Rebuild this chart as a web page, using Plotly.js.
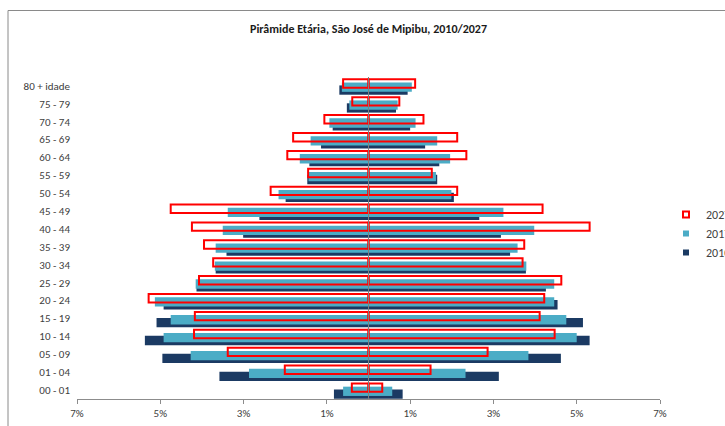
<!DOCTYPE html>
<html>
<head>
<meta charset="utf-8">
<script src="https://cdn.plot.ly/plotly-3.0.1.min.js"></script>
<style>
html,body{margin:0;padding:0;background:#fff;}
#chart{width:725px;height:426px;}
</style>
</head>
<body>
<div id="chart"></div>
<script>
// Age groups, bottom to top
var categories = ['00 - 01','01 - 04','05 - 09','10 - 14','15 - 19','20 - 24','25 - 29','30 - 34','35 - 39','40 - 44','45 - 49','50 - 54','55 - 59','60 - 64','65 - 69','70 - 74','75 - 79','80 + idade'];

// Left side (% of population), drawn to the left
var left2010 = [0.83, 3.58, 4.95, 5.37, 5.09, 4.92, 4.13, 3.67, 3.41, 3.01, 2.62, 1.99, 1.47, 1.42, 1.14, 0.86, 0.52, 0.70];
var left2017 = [0.61, 2.87, 4.27, 4.92, 4.75, 5.13, 4.15, 3.69, 3.67, 3.50, 3.38, 2.16, 1.44, 1.65, 1.39, 0.94, 0.46, 0.64];
var left2027 = [0.40, 2.01, 3.38, 4.19, 4.17, 5.28, 4.07, 3.73, 3.95, 4.24, 4.75, 2.35, 1.45, 1.95, 1.81, 1.06, 0.39, 0.61];

// Right side (% of population)
var right2010 = [0.82, 3.13, 4.62, 5.31, 5.15, 4.54, 4.26, 3.78, 3.40, 3.18, 2.66, 2.05, 1.65, 1.70, 1.36, 1.00, 0.66, 0.94];
var right2017 = [0.57, 2.33, 3.84, 5.00, 4.75, 4.46, 4.46, 3.79, 3.58, 3.98, 3.24, 1.99, 1.62, 1.96, 1.65, 1.13, 0.70, 1.04];
var right2027 = [0.33, 1.49, 2.86, 4.47, 4.11, 4.22, 4.63, 3.70, 3.74, 5.31, 4.18, 2.13, 1.52, 2.35, 2.13, 1.32, 0.74, 1.12];

var seriesNames = ['2010', '2017', '2027'];
var xTickVals = [-7, -5, -3, -1, 1, 3, 5, 7];
var xTickText = ['7%', '5%', '3%', '1%', '1%', '3%', '5%', '7%'];
var chartTitle = 'Pirâmide Etária, São José de Mipibu, 2010/2027';

var FONT = 'Carlito, "Liberation Sans Narrow", "Open Sans", sans-serif';
var COL2010 = '#1B3A63', COL2017 = '#4BACC6', COL2027 = '#FF0000';

function both(l, r) { return l.map(function(v){return -v;}).concat(r); }
var yAll = categories.concat(categories);

var traces = [
  {
    type: 'bar', orientation: 'h', name: seriesNames[0], showlegend: false,
    x: both(left2010, right2010), y: yAll,
    width: 0.52, offset: -0.49,
    marker: {color: COL2010, line: {width: 0}},
    hoverinfo: 'skip'
  },
  {
    type: 'bar', orientation: 'h', name: seriesNames[1], showlegend: false,
    x: both(left2017, right2017), y: yAll,
    width: 0.52, offset: -0.33,
    marker: {color: COL2017, line: {width: 0}},
    hoverinfo: 'skip'
  },
  {
    type: 'bar', orientation: 'h', name: seriesNames[2], showlegend: false,
    x: both(left2027, right2027), y: yAll,
    width: 0.47, offset: -0.10,
    marker: {color: 'rgba(255,255,255,0)', line: {color: COL2027, width: 2}},
    hoverinfo: 'skip'
  },
  // legend keys (small squares, as in the original)
  {type: 'scatter', mode: 'markers', name: seriesNames[0], x: [null], y: [null],
   marker: {symbol: 'square', size: 6, color: COL2010}, hoverinfo: 'skip'},
  {type: 'scatter', mode: 'markers', name: seriesNames[1], x: [null], y: [null],
   marker: {symbol: 'square', size: 6, color: COL2017}, hoverinfo: 'skip'},
  {type: 'scatter', mode: 'markers', name: seriesNames[2], x: [null], y: [null],
   marker: {symbol: 'square', size: 6, color: '#ffffff', line: {color: COL2027, width: 2}}, hoverinfo: 'skip'}
];

var layout = {
  width: 725, height: 426,
  margin: {l: 77, r: 65, t: 77, b: 27, autoexpand: false},
  paper_bgcolor: '#ffffff', plot_bgcolor: 'rgba(0,0,0,0)',
  barmode: 'overlay',
  showlegend: true,
  font: {family: FONT, size: 11, color: '#404040'},
  title: {
    text: chartTitle,
    font: {family: FONT, size: 12, color: '#1a1a1a', weight: 'bold'},
    x: 0.5, xref: 'paper', xanchor: 'center',
    y: 1 - 29/426, yref: 'container', yanchor: 'middle'
  },
  xaxis: {
    range: [-7, 7],
    tickvals: xTickVals, ticktext: xTickText,
    showgrid: false,
    showline: true, linecolor: '#8c8c8c', linewidth: 1,
    ticks: 'outside', ticklen: 4, tickcolor: '#8c8c8c',
    zeroline: true, zerolinecolor: '#7f7f7f', zerolinewidth: 1,
    layer: 'above traces', zerolinelayer: 'above traces',
    tickfont: {family: FONT, size: 11, color: '#404040'},
    fixedrange: true
  },
  yaxis: {
    type: 'category', categoryorder: 'array', categoryarray: categories,
    range: [-0.5, 17.5],
    showgrid: false, showline: false, zeroline: false,
    ticks: '', ticklabelstandoff: 6,
    tickfont: {family: FONT, size: 11, color: '#404040'},
    fixedrange: true
  },
  legend: {
    orientation: 'v', traceorder: 'reversed',
    x: (666 - 77) / 583, xanchor: 'left',
    y: (399 - 200) / 322, yanchor: 'top',
    font: {family: FONT, size: 12, color: '#404040'},
    bgcolor: 'rgba(0,0,0,0)', borderwidth: 0,
    itemwidth: 30
  },
  shapes: [{
    type: 'rect', xref: 'paper', yref: 'paper',
    x0: (8 - 77) / 583, x1: 1.3,
    y0: -0.3, y1: (399 - 10.5) / 322,
    line: {color: '#8a8a8a', width: 1},
    fillcolor: 'rgba(0,0,0,0)', layer: 'below'
  }]
};

Plotly.newPlot('chart', traces, layout, {displayModeBar: false, staticPlot: true});
</script>
</body>
</html>
